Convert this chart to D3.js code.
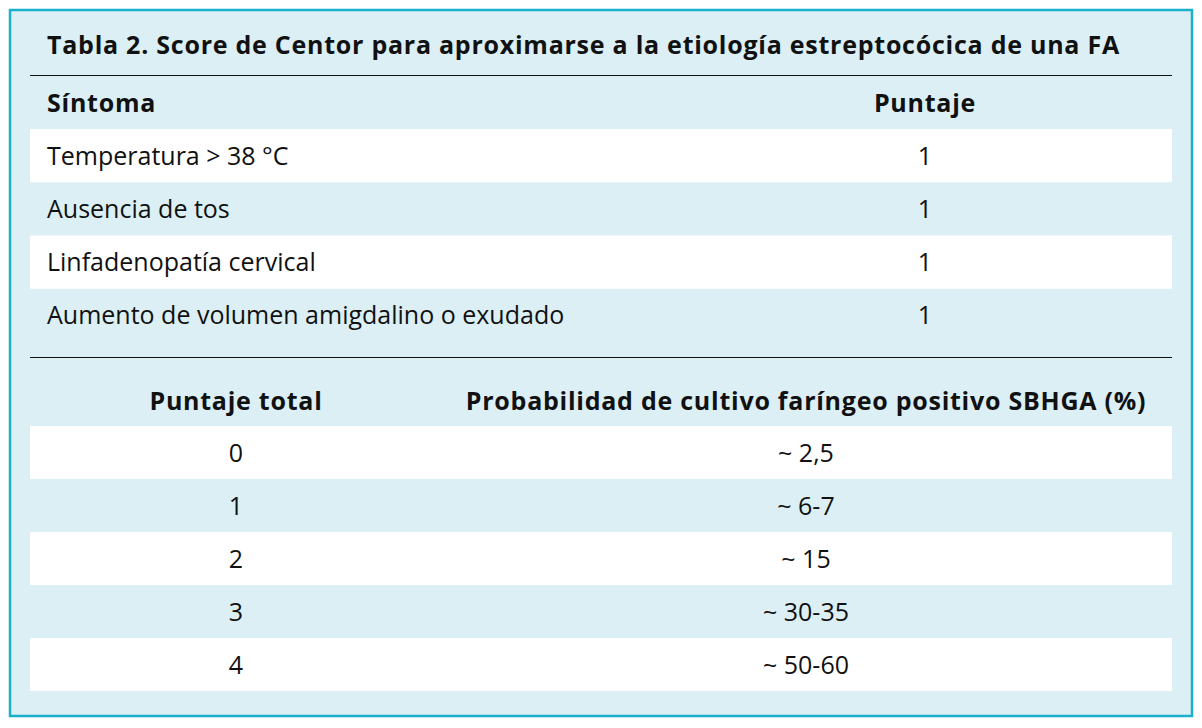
<!DOCTYPE html><html><head><meta charset="utf-8"><script src="https://d3js.org/d3.v7.min.js"></script>
<style>body{margin:0;background:#fff}text{font-family:"Open Sans",sans-serif;fill:#111}.b{font-weight:700;letter-spacing:0.75px}</style></head><body>
<script>
const title="Tabla 2. Score de Centor para aproximarse a la etiología estreptocócica de una FA";
const header1=["Síntoma","Puntaje"];
const symptoms=["Temperatura > 38 °C","Ausencia de tos","Linfadenopatía cervical","Aumento de volumen amigdalino o exudado"];
const points=[1,1,1,1];
const header2=["Puntaje total","Probabilidad de cultivo faríngeo positivo SBHGA (%)"];
const totals=[0,1,2,3,4];
const probs=["~ 2,5","~ 6-7","~ 15","~ 30-35","~ 50-60"];
const FS=25;
const svg=d3.select("body").append("svg").attr("width",1202).attr("height",728);
svg.append("rect").attr("x",10).attr("y",10).attr("width",1182).attr("height",706)
  .attr("fill","#dbeff5").attr("stroke","#1ab0cc").attr("stroke-width",2.5);
svg.append("text").attr("class","b").attr("x",47).attr("y",54).attr("font-size",FS).text(title);
svg.append("line").attr("x1",30).attr("x2",1172).attr("y1",75.5).attr("y2",75.5).attr("stroke","#111");
svg.append("line").attr("x1",30).attr("x2",1172).attr("y1",357.5).attr("y2",357.5).attr("stroke","#111");
svg.append("text").attr("class","b").attr("x",47).attr("y",112).attr("font-size",FS).text(header1[0]);
svg.append("text").attr("class","b").attr("x",925).attr("y",112).attr("text-anchor","middle").attr("font-size",FS).text(header1[1]);
const y1=d3.scaleBand().domain(d3.range(symptoms.length)).range([129,342]);
const g1=svg.selectAll(".r1").data(symptoms).join("g");
g1.append("rect").attr("x",30).attr("width",1142).attr("y",(d,i)=>y1(i)).attr("height",y1.bandwidth())
  .attr("fill",(d,i)=>i%2?"none":"#fff");
g1.append("text").attr("x",47).attr("y",(d,i)=>y1(i)+y1.bandwidth()/2+9).attr("font-size",FS).text(d=>d);
g1.append("text").attr("x",925).attr("text-anchor","middle").attr("y",(d,i)=>y1(i)+y1.bandwidth()/2+9).attr("font-size",FS).text((d,i)=>points[i]);
svg.append("text").attr("class","b").attr("x",236).attr("y",410).attr("text-anchor","middle").attr("font-size",FS).text(header2[0]);
svg.append("text").attr("class","b").attr("x",806).attr("y",410).attr("text-anchor","middle").attr("font-size",FS).text(header2[1]);
const y2=d3.scaleBand().domain(d3.range(totals.length)).range([426,691]);
const g2=svg.selectAll(".r2").data(totals).join("g");
g2.append("rect").attr("x",30).attr("width",1142).attr("y",(d,i)=>y2(i)).attr("height",y2.bandwidth())
  .attr("fill",(d,i)=>i%2?"none":"#fff");
g2.append("text").attr("x",236).attr("text-anchor","middle").attr("y",(d,i)=>y2(i)+y2.bandwidth()/2+9).attr("font-size",FS).text(d=>d);
g2.append("text").attr("x",806).attr("text-anchor","middle").attr("y",(d,i)=>y2(i)+y2.bandwidth()/2+9).attr("font-size",FS).text((d,i)=>probs[i]);
</script></body></html>
